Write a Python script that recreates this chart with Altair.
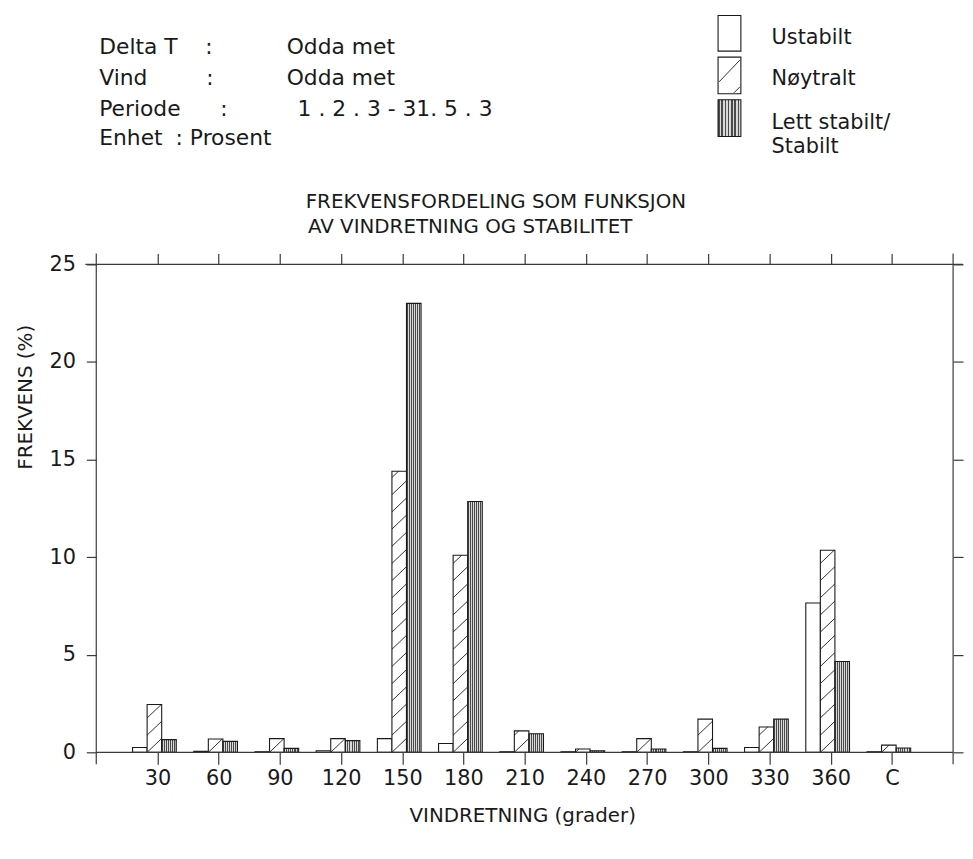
import json
import altair as alt
import pandas as pd

# ---------------- data ----------------
retning = ["30", "60", "90", "120", "150", "180", "210", "240", "270", "300", "330", "360", "C"]
ustabilt = [0.25, 0.05, 0.03, 0.08, 0.70, 0.45, 0.03, 0.03, 0.03, 0.03, 0.25, 7.65, 0.03]
noytralt = [2.45, 0.68, 0.70, 0.70, 14.40, 10.10, 1.10, 0.17, 0.70, 1.70, 1.30, 10.35, 0.37]
stabilt = [0.65, 0.56, 0.20, 0.60, 23.00, 12.85, 0.95, 0.08, 0.17, 0.20, 1.70, 4.65, 0.22]
serier = ["Ustabilt", "Nøytralt", "Lett stabilt/Stabilt"]
y_ticks = [0, 5, 10, 15, 20, 25]

FONT = "DejaVu Sans"
INK = "#1a1a1a"
LINE = "#3a3a3a"

BAR_W = 0.238   # bar width in x-units (one unit = one direction slot)
SHIFT = -0.05   # groups sit slightly left of the tick

rows = []
for i, r in enumerate(retning):
    pos = i + 1
    for s, vals in enumerate([ustabilt, noytralt, stabilt]):
        x0 = pos + SHIFT + (s - 1.5) * BAR_W
        rows.append(dict(retning=r, serie=serier[s], x0=x0, x1=x0 + BAR_W, v=vals[i]))
bars = pd.DataFrame(rows)

# diagonal hatch segments for the neutral bars (derived from the bar table)
RISE = 0.71
SPACING = 0.88
hrows = []
for _, b in bars[bars.serie == "Nøytralt"].iterrows():
    k = -1
    while k * SPACING <= b.v:
        y0 = k * SPACING
        t0 = max(0.0, (0 - y0) / RISE)
        t1 = min(1.0, (b.v - y0) / RISE)
        if t1 > t0:
            hrows.append(dict(xa=b.x0 + t0 * BAR_W, xb=b.x0 + t1 * BAR_W,
                              ya=y0 + t0 * RISE, yb=y0 + t1 * RISE))
        k += 1
hatch = pd.DataFrame(hrows)

# vertical stripe fill for the stable bars
stops = []
N = 7
for i in range(N):
    a, m, e = i / N, (i + 0.5) / N, (i + 1) / N
    stops += [alt.GradientStop(color="#4a4a4a", offset=a), alt.GradientStop(color="#4a4a4a", offset=m),
              alt.GradientStop(color="#d8d8d8", offset=m), alt.GradientStop(color="#d8d8d8", offset=e)]
stripes = alt.LinearGradient(gradient="linear", stops=stops, x1=0, x2=1, y1=0, y2=0)

xs = alt.Scale(domain=[0, 14], nice=False, zero=False)
ys = alt.Scale(domain=[0, 25], nice=False)
label_expr = json.dumps([""] + retning) + "[datum.value]"

W, H = 864, 492
one = pd.DataFrame({"a": [0]})

ax_bottom = alt.Axis(values=list(range(1, 14)), labelExpr=label_expr, domain=False, grid=False,
                     tickSize=12, tickColor=LINE, tickWidth=1.2, labelFont=FONT, labelFontSize=21,
                     labelColor=INK, labelPadding=3, title=None)
ax_top = alt.Axis(orient="top", values=list(range(1, 14)), labels=False, domain=False, grid=False,
                  tickSize=11, tickColor=LINE, tickWidth=1.2, title=None)
ax_left = alt.Axis(values=y_ticks, domain=False, grid=False, tickSize=10, tickColor=LINE, tickWidth=1.2,
                   labelFont=FONT, labelFontSize=21, labelColor=INK, labelPadding=11, title=None)
ax_right = alt.Axis(orient="right", values=y_ticks, labels=False, domain=False, grid=False,
                    tickSize=10, tickColor=LINE, tickWidth=1.2, title=None)


def bar_layer(serie, fill, xaxis=None, yaxis=None):
    return alt.Chart(bars).transform_filter(alt.datum.serie == serie).mark_bar(
        fill=fill, stroke=INK, strokeWidth=1.1
    ).encode(
        x=alt.X("x0:Q", scale=xs, axis=xaxis),
        x2="x1:Q",
        y=alt.Y("v:Q", scale=ys, axis=yaxis),
        y2=alt.datum(0),
    )


l_ust = bar_layer("Ustabilt", "white", ax_bottom, ax_left)
l_noy = bar_layer("Nøytralt", "white", ax_top, ax_right)
l_hat = alt.Chart(hatch).mark_rule(color=INK, strokeWidth=0.9).encode(
    x=alt.X("xa:Q", scale=xs, axis=None), x2="xb:Q",
    y=alt.Y("ya:Q", scale=ys, axis=None), y2="yb:Q")
l_sta = bar_layer("Lett stabilt/Stabilt", stripes)


def rule(x1, y1, x2, y2, color=LINE, w=1.2):
    return alt.Chart(one).mark_rule(color=color, strokeWidth=w).encode(
        x=alt.value(x1), x2=alt.value(x2), y=alt.value(y1), y2=alt.value(y2))


def txt(t, x, y, size=20, align="left", angle=0):
    return alt.Chart(one).mark_text(text=t, font=FONT, fontSize=size, align=align, baseline="alphabetic",
                                    color=INK, angle=angle).encode(x=alt.value(x), y=alt.value(y))


frame = [
    rule(0, -11, 0, H + 12),
    rule(W, -11, W, H + 12),
    rule(-11, 0, W + 10, 0),
    rule(0, H, W, H),
]

HS = 22
header = [
    txt("Delta T", 3, -212, HS), txt(":", 110, -212, HS), txt("Odda met", 192, -212, HS),
    txt("Vind", 3, -181, HS), txt(":", 111, -181, HS), txt("Odda met", 192, -181, HS),
    txt("Periode", 3, -150, HS), txt(":", 125, -150, HS), txt("1 . 2 . 3 - 31. 5 . 3", 203, -150, HS),
    txt("Enhet", 3, -120, HS), txt(": Prosent", 80, -120, HS),
]

lx0, lx1 = 627, 650
LS = 21
legend = [
    alt.Chart(one).mark_rect(fill="white", stroke=INK, strokeWidth=1.1).encode(
        x=alt.value(lx0), x2=alt.value(lx1), y=alt.value(-251), y2=alt.value(-215)),
    alt.Chart(one).mark_rect(fill="white", stroke=INK, strokeWidth=1.1).encode(
        x=alt.value(lx0), x2=alt.value(lx1), y=alt.value(-209), y2=alt.value(-172)),
    rule(lx0 + 1, -184, lx1 - 1, -206, INK, 0.9),
    rule(lx1 - 7, -173, lx1 - 1, -179, INK, 0.9),
    alt.Chart(one).mark_rect(fill=stripes, stroke=INK, strokeWidth=1.1).encode(
        x=alt.value(lx0), x2=alt.value(lx1), y=alt.value(-166), y2=alt.value(-129)),
    txt("Ustabilt", 681, -222, LS),
    txt("Nøytralt", 681, -181, LS),
    txt("Lett stabilt/", 681, -137, LS),
    txt("Stabilt", 681, -112, LS),
]

titles = [
    txt("FREKVENSFORDELING SOM FUNKSJON", 403, -57, 20, "center"),
    txt("AV VINDRETNING OG STABILITET", 377, -32, 20, "center"),
    txt("FREKVENS (%)", -65, 134, 20, "center", 270),
    txt("VINDRETNING (grader)", 430, 562, 20, "center"),
]

chart = alt.layer(
    l_ust, l_noy, l_hat, l_sta, *frame, *header, *legend, *titles
).resolve_axis(x="independent", y="independent").properties(
    width=W, height=H,
    autosize=alt.AutoSizeParams(type="none"),
    padding={"left": 89, "top": 255, "right": 12, "bottom": 96},
).configure_view(stroke=None)

chart.save("out.html", embed_options={"renderer": "svg", "actions": False})
